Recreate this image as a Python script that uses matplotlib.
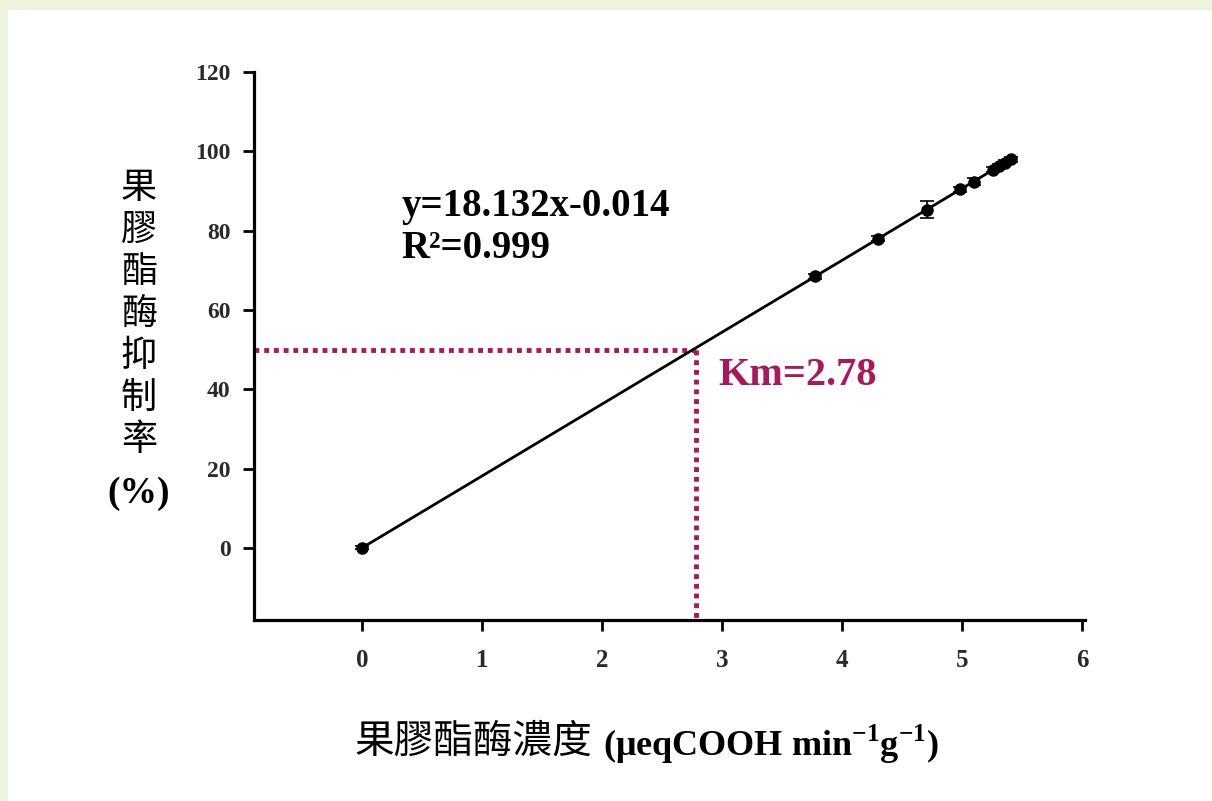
import matplotlib.pyplot as plt
from matplotlib.patches import Rectangle

# ---- data ----
conc = [0.0, 3.775, 4.30, 4.71, 4.98, 5.10, 5.26, 5.31, 5.36, 5.41]
inhib = [0.0, 68.5, 78.0, 85.3, 90.4, 92.4, 95.4, 96.3, 97.1, 98.0]
inhib_err = [0.4, 0.6, 0.6, 2.1, 0.6, 0.8, 0.6, 0.6, 0.6, 0.6]
fit_slope, fit_intercept = 18.132, -0.014
fit_x = [0.0, 5.41]
km = 2.78
half = 50
xticks = [0, 1, 2, 3, 4, 5, 6]
yticks = [0, 20, 40, 60, 80, 100, 120]
eq_text = 'y=18.132x-0.014'
r2_text = 'R²=0.999'
km_text = 'Km=2.78'
ylabel_chars = list('果膠酯酶抑制率')
xlabel_cjk = '果膠酯酶濃度'
xlabel_unit = r'(μeqCOOH min$^{\mathbf{-1}}$g$^{\mathbf{-1}}$)'

serif = 'Liberation Serif'
cjk = 'Noto Sans CJK TC'
red = '#a8185a'
plt.rcParams['mathtext.fontset'] = 'custom'
plt.rcParams['mathtext.rm'] = 'Liberation Serif:bold'
plt.rcParams['mathtext.bf'] = 'Liberation Serif:bold'

# ------ figure layout ------
fig = plt.figure(figsize=(12.12, 8.01), dpi=100)
fig.patch.set_facecolor('#eef3dc')
fig.patches.append(Rectangle((8 / 1212, 0), 1, 1 - 10 / 801, transform=fig.transFigure,
                             facecolor='white', edgecolor='none', zorder=-1))
ax = fig.add_axes([0.2096, 0.226, 0.6856, 0.684])
ax.set_xlim(-0.9, 6.025)
ax.set_ylim(-18.2, 120)
for s in ['top', 'right']:
    ax.spines[s].set_visible(False)
for s in ['left', 'bottom']:
    ax.spines[s].set_linewidth(2.3)

ax.set_xticks(xticks)
ax.set_yticks(yticks)
ax.tick_params(axis='both', direction='out', length=8, width=2)
ax.tick_params(axis='y', pad=9)
ax.tick_params(axis='x', pad=13)
for lab in ax.get_yticklabels():
    lab.set_fontfamily(serif)
    lab.set_fontweight('bold')
    lab.set_fontsize(17)
    lab.set_color('#2a2a2a')
for lab in ax.get_xticklabels():
    lab.set_fontfamily(serif)
    lab.set_fontweight('bold')
    lab.set_fontsize(18)
    lab.set_color('#2a2a2a')

# ----- Km guide lines -----
xl = ax.get_xlim()
yl = ax.get_ylim()
ax.plot([xl[0], km], [half, half], color=red, lw=3.5, linestyle=(0, (1, 1)), clip_on=False)
ax.plot([km, km], [half, yl[0]], color=red, lw=3.5, linestyle=(0, (1, 1)), clip_on=False)

# ----- fit line and data -----
ax.plot(fit_x, [fit_slope * v + fit_intercept for v in fit_x], color='black', lw=2)
ax.errorbar(conc, inhib, yerr=inhib_err, fmt='o', color='black', ms=8,
            capsize=5, elinewidth=1.2, capthick=1.2)

# ----- annotations -----
ax.text(0.33, 86.0, eq_text, fontfamily=serif, fontweight='bold', fontsize=28, va='center')
ax.text(0.33, 75.5, r2_text, fontfamily=serif, fontweight='bold', fontsize=28, va='center')
ax.text(2.97, 43.5, km_text, fontfamily=serif, fontweight='bold', fontsize=29, va='center', color=red)

# ----- axis labels -----
for i, ch in enumerate(ylabel_chars):
    fig.text(139 / 1212, 1 - (188 + 42 * i) / 801, ch, fontfamily=cjk, fontsize=26,
             ha='center', va='center')
fig.text(139 / 1212, 1 - 494 / 801, '(%)', fontfamily=serif, fontweight='bold', fontsize=27,
         ha='center', va='center')

t1 = fig.text(355 / 1212, 1 - 742 / 801, xlabel_cjk, fontfamily=cjk, fontsize=28.5,
              ha='left', va='center')
r = fig.canvas.get_renderer()
bb = t1.get_window_extent(renderer=r)
fig.text((bb.x1 + 10) / 1212, 1 - 744 / 801, xlabel_unit, fontfamily=serif, fontweight='bold',
         fontsize=26, ha='left', va='center')

plt.savefig('out.png', dpi=100, facecolor=fig.get_facecolor())
